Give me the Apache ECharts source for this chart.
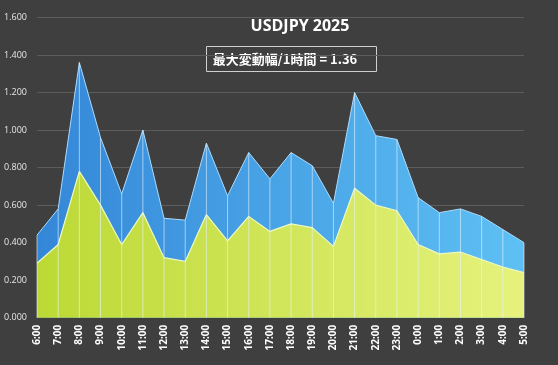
<!DOCTYPE html>
<html><head><meta charset="utf-8">
<script src="https://cdn.jsdelivr.net/npm/echarts@6/dist/echarts.min.js"></script>
<style>html,body{margin:0;padding:0;background:#3f3f3f}#c{width:558px;height:365px}</style>
</head><body><div id="c"></div>
<script>
const categories = ['6:00','7:00','8:00','9:00','10:00','11:00','12:00','13:00','14:00','15:00','16:00','17:00','18:00','19:00','20:00','21:00','22:00','23:00','0:00','1:00','2:00','3:00','4:00','5:00'];
const maxRange = [0.44,0.58,1.36,0.96,0.66,1.00,0.53,0.52,0.93,0.65,0.88,0.74,0.88,0.81,0.61,1.20,0.97,0.95,0.64,0.56,0.58,0.54,0.47,0.40];
const avgRange = [0.29,0.39,0.78,0.60,0.39,0.56,0.32,0.30,0.55,0.41,0.54,0.46,0.50,0.48,0.38,0.69,0.60,0.57,0.39,0.34,0.35,0.31,0.27,0.24];
const yTicks = {min:0, max:1.6, interval:0.2};
const titleText = 'USDJPY 2025';
const boxText = '最大変動幅/1時間 = 1.36';

const chart = echarts.init(document.getElementById('c'));
chart.setOption({
  backgroundColor:'#3f3f3f',
  animation:false,
  textStyle:{fontFamily:'"Open Sans","Noto Sans CJK JP",sans-serif'},
  title:{text:titleText,left:295,top:13,textAlign:'center',
    textStyle:{color:'#ffffff',fontSize:16,fontWeight:'bold',fontFamily:'"Open Sans",sans-serif'}},
  graphic:[{type:'rect',shape:{x:206.5,y:46.5,width:170,height:25},
    style:{fill:'rgba(0,0,0,0)',stroke:'#cfcfcf',lineWidth:1}},
    {type:'text',x:285,y:59,style:{text:boxText,fill:'#ffffff',font:'bold 13px "Noto Sans CJK JP",sans-serif',align:'center',verticalAlign:'middle'}}],
  grid:{left:37,right:34,top:17.5,bottom:47.3,containLabel:false},
  xAxis:{type:'category',data:categories,boundaryGap:false,
    axisLine:{show:false},axisTick:{show:false},
    axisLabel:{rotate:90,color:'#ffffff',fontSize:10,fontWeight:'bold',margin:7,interval:0}},
  yAxis:{type:'value',min:yTicks.min,max:yTicks.max,interval:yTicks.interval,
    axisLine:{show:false},axisTick:{show:false},
    splitLine:{lineStyle:{color:'#5c5c5c',width:1}},
    axisLabel:{color:'#e6e6e6',fontSize:9,margin:10,formatter:v=>v.toFixed(3)}},
  series:[
    {type:'line',data:maxRange,symbol:'none',z:2,
      lineStyle:{color:'#a9dcff',width:1},
      areaStyle:{opacity:1,color:new echarts.graphic.LinearGradient(0,0,1,0,[{offset:0,color:'#3487d8'},{offset:1,color:'#5ec0f4'}])}},
    {type:'line',data:avgRange,symbol:'none',z:3,
      lineStyle:{color:'#eefac0',width:1.2},
      areaStyle:{opacity:1,color:new echarts.graphic.LinearGradient(0,0,1,0,[{offset:0,color:'#bcd935'},{offset:1,color:'#e6f27d'}])}},
    {type:'bar',data:maxRange,barWidth:1,z:4,silent:true,
      itemStyle:{color:'rgba(230,245,255,0.6)'}}
  ]
});
</script></body></html>
